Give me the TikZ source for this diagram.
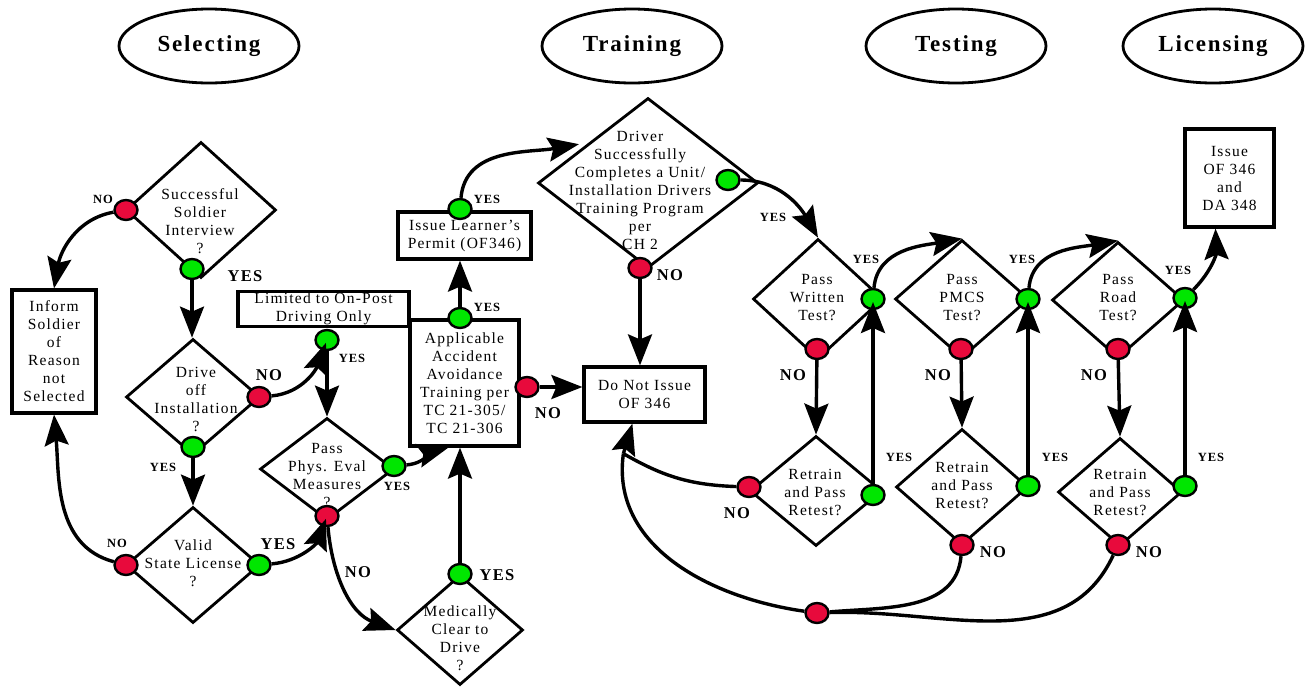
\documentclass[tikz,border=0pt]{standalone}
\usepackage{fontspec}
\setmainfont{Liberation Serif}
\newfontfamily\spaced{Liberation Serif}[LetterSpace=8]
\usetikzlibrary{shapes.geometric,arrows.meta,calc}
\definecolor{dotred}{RGB}{232,10,60}
\definecolor{dotgreen}{RGB}{0,230,0}
\newcommand\bodyf{\spaced\fontsize{15.5}{18}\selectfont}
\tikzset{
 dia/.style={draw, diamond, line width=2.8pt, inner sep=0pt},
 box/.style={draw, rectangle, line width=3.2pt, inner sep=0pt, align=center, font=\bodyf},
 txt/.style={align=center, font=\bodyf, inner sep=0pt},
 phase/.style={draw, ellipse, line width=2.8pt, minimum width=180, minimum height=74, inner sep=0pt, font=\spaced\bfseries\fontsize{23}{25}\selectfont},
 dotbase/.style={ellipse, draw, line width=2.4pt, minimum width=23, minimum height=20, inner sep=0pt},
 rdot/.style={dotbase, fill=dotred},
 gdot/.style={dotbase, fill=dotgreen},
 conn/.style={line width=3.4pt},
 arr/.style={conn, -{Stealth[length=31pt,width=24pt,inset=5pt]}},
 lbig/.style={font=\spaced\bfseries\fontsize{16.5}{18}\selectfont, inner sep=0pt},
 lsmall/.style={font=\spaced\bfseries\fontsize{12.5}{14}\selectfont, inner sep=0pt},
}
\begin{document}
\begin{tikzpicture}[x=1pt,y=-1pt]
\fill[white] (0,0) rectangle (1306,686);
\useasboundingbox (0,0) rectangle (1306,686);

% phases
\node[phase] (sel) at (209,46) {Selecting};
\node[phase] (trn) at (632,46) {Training};
\node[phase] (tst) at (956,46) {Testing};
\node[phase] (lic) at (1213,46) {Licensing};

% diamonds
\node[dia, minimum width=150, minimum height=136] (interview) at (201,210) {};
\node[dia, minimum width=134, minimum height=116] (drive) at (193,397) {};
\node[dia, minimum width=134, minimum height=116] (valid) at (193,565) {};
\node[dia, minimum width=134, minimum height=102] (phys) at (327,469) {};
\node[dia, minimum width=126, minimum height=110] (medic) at (460,630) {};
\node[dia, minimum width=220, minimum height=170] (driver) at (648,183) {};
\node[dia, minimum width=130, minimum height=120] (written) at (818,299) {};
\node[dia, minimum width=134, minimum height=118] (pmcs) at (962,299) {};
\node[dia, minimum width=132, minimum height=116] (road) at (1118,300) {};
\node[dia, minimum width=132, minimum height=110] (retr1) at (816,491) {};
\node[dia, minimum width=132, minimum height=116] (retr2) at (962,487) {};
\node[dia, minimum width=124, minimum height=108] (retr3) at (1120,492) {};

% diamond texts
\node[txt] (tInterview) at (200,221) {Successful\\Soldier\\Interview\\?};
\node[txt] (tDrive) at (196,399) {Drive\\off\\Installation\\?};
\node[txt] (tValid) at (193,563) {Valid\\State License\\?};
\node[txt] (tPhys) at (327,476) {Pass\\Phys. Eval\\Measures\\?};
\node[txt] (tMedic) at (460,638) {Medically\\Clear to\\Drive\\?};
\node[txt] (tDriver) at (640,190) {Driver\\Successfully\\Completes a Unit/\\Installation Drivers\\Training Program\\per\\CH 2};
\node[txt] (tWritten) at (817,298) {Pass\\Written\\Test?};
\node[txt] (tPmcs) at (962,298) {Pass\\PMCS\\Test?};
\node[txt] (tRoad) at (1118,298) {Pass\\Road\\Test?};
\node[txt] (tRetr1) at (815,492) {Retrain\\and Pass\\Retest?};
\node[txt] (tRetr2) at (962,485) {Retrain\\and Pass\\Retest?};
\node[txt] (tRetr3) at (1120,492) {Retrain\\and Pass\\Retest?};

% boxes
\node[box, minimum width=84, minimum height=123] (inform) at (54,351.5) {Inform\\Soldier\\of\\Reason\\not\\Selected};
\node[box, minimum width=171, minimum height=35] (limited) at (323.5,309) {Limited to On-Post\\Driving Only};
\node[box, minimum width=109, minimum height=126] (applic) at (464.5,383) {Applicable\\Accident\\Avoidance\\Training per\\TC 21-305/\\TC 21-306};
\node[box, minimum width=133, minimum height=47] (learner) at (464.5,235.5) {Issue Learner’s\\Permit (OF346)};
\node[box, minimum width=121, minimum height=55] (dni) at (644.5,394.5) {Do Not Issue\\OF 346};
\node[box, minimum width=89, minimum height=98] (issue) at (1229.5,178) {Issue\\OF 346\\and\\DA 348};

% dots
\node[rdot] (intNo) at (126,210) {};
\node[gdot] (intYes) at (192,269) {};
\node[rdot] (driveNo) at (259,397) {};
\node[gdot] (driveYes) at (193,447) {};
\node[gdot] (limYes) at (327,340) {};
\node[rdot] (validNo) at (126,565) {};
\node[gdot] (validYes) at (259,565) {};
\node[gdot] (physYes) at (394,466) {};
\node[rdot] (physNo) at (327,516) {};
\node[gdot] (medYes) at (460,574) {};
\node[gdot] (appYes) at (460,318) {};
\node[rdot] (appNo) at (527,387) {};
\node[gdot] (learnYes) at (460,209) {};
\node[gdot] (drvYes) at (728,180) {};
\node[rdot] (drvNo) at (640,268) {};
\node[gdot] (wYes) at (873,299) {};
\node[rdot] (wNo) at (817,349) {};
\node[gdot] (pYes) at (1028,299) {};
\node[rdot] (pNo) at (961,349) {};
\node[gdot] (rYes) at (1185,298) {};
\node[rdot] (rNo) at (1118,349) {};
\node[rdot] (r1No) at (749,487) {};
\node[gdot] (r1Yes) at (873,495) {};
\node[gdot] (r2Yes) at (1028,486) {};
\node[rdot] (r2No) at (962,545) {};
\node[gdot] (r3Yes) at (1185,486) {};
\node[rdot] (r3No) at (1118,545) {};
\node[rdot] (junc) at (817,613) {};

% helper coordinates
\coordinate (appIn) at ($(applic.south west)+(40,0)$);
\coordinate (drvIn) at ($(driver.west)!0.38!(driver.north)+(0,-6)$);
\coordinate (issIn) at ($(issue.south)+(-14,0)$);
\coordinate (merge) at ($(dni.south west)+(41,30)$);
\coordinate (dniIn) at ($(dni.south west)+(50,0)$);

% connectors - selecting
\draw[arr] (intNo) to[out=190,in=80] (inform.north);
\draw[arr] (intYes) -- (intYes |- drive.north);
\draw[arr, shorten >=3pt] (driveNo) to[out=5,in=-110] (limYes.center);
\draw[arr] (limYes) -- (phys.north);
\draw[arr] (driveYes) -- (valid.north);
\draw[arr] (validNo) to[out=165,in=-85] (inform.south);
\draw[arr, shorten >=3pt] (validYes) to[out=5,in=-110] (physNo.center);
\draw[arr] (physYes) to[out=5,in=-165] (appIn);
\draw[arr] (physNo) to[out=-85,in=160] (medic.west);
\draw[arr] (medYes) -- (medYes |- applic.south);
% training
\draw[arr] (appYes) -- (appYes |- learner.south);
\draw[arr] (learnYes) to[out=85,in=190] (drvIn);
\draw[arr] (appNo) -- (appNo -| dni.west);
\draw[arr] (drvNo) -- (drvNo |- dni.north);
\draw[arr] (drvYes) to[out=0,in=120] (written.north);
% testing
\draw[arr] (wNo) -- (retr1.north);
\draw[arr, shorten >=3pt] (r1Yes) -- (wYes.center);
\draw[arr] (wYes) to[out=85,in=190] (pmcs.north);
\draw[arr] (pNo) -- (retr2.north);
\draw[arr, shorten >=3pt] (r2Yes) -- (pYes.center);
\draw[arr] (pYes) to[out=85,in=190] (road.north);
\draw[arr] (rNo) -- (retr3.north);
\draw[arr, shorten >=3pt] (r3Yes) -- (rYes.center);
\draw[arr] (rYes) to[out=45,in=-88] (issIn);
% failure returns
\draw[conn] (r2No) to[out=-95,in=5] (junc);
\draw[conn] (r3No) to[out=-115,in=2] (junc);
\draw[conn] (junc) to[out=172,in=-98] (merge);
\draw[conn] (r1No) to[out=178,in=-30] (merge);
\draw[arr] (merge) -- (dniIn);

% labels
\node[lsmall] (lb1) at (103,199) {NO};
\node[lbig] (lb2) at (245,276) {YES};
\node[lbig] (lb3) at (269,375) {NO};
\node[lsmall] (lb4) at (352,358) {YES};
\node[lsmall] (lb5) at (163,467) {YES};
\node[lsmall] (lb6) at (117,543) {NO};
\node[lbig] (lb7) at (278,544) {YES};
\node[lsmall] (lb8) at (397,486) {YES};
\node[lbig] (lb9) at (358,572) {NO};
\node[lbig] (lb10) at (497,575) {YES};
\node[lbig] (lb11) at (548,413) {NO};
\node[lsmall] (lb12) at (487,307) {YES};
\node[lsmall] (lb13) at (487,199) {YES};
\node[lbig] (lb14) at (670,275) {NO};
\node[lsmall] (lb15) at (773,217) {YES};
\node[lsmall] (lb16) at (866,259) {YES};
\node[lsmall] (lb17) at (1022,259) {YES};
\node[lsmall] (lb18) at (1178,270) {YES};
\node[lbig] (lb19) at (793,375) {NO};
\node[lbig] (lb20) at (938,375) {NO};
\node[lbig] (lb21) at (1094,375) {NO};
\node[lsmall] (lb22) at (899,457) {YES};
\node[lsmall] (lb23) at (1055,457) {YES};
\node[lsmall] (lb24) at (1211,457) {YES};
\node[lbig] (lb25) at (737,513) {NO};
\node[lbig] (lb26) at (993,552) {NO};
\node[lbig] (lb27) at (1149,552) {NO};
\end{tikzpicture}
\end{document}
